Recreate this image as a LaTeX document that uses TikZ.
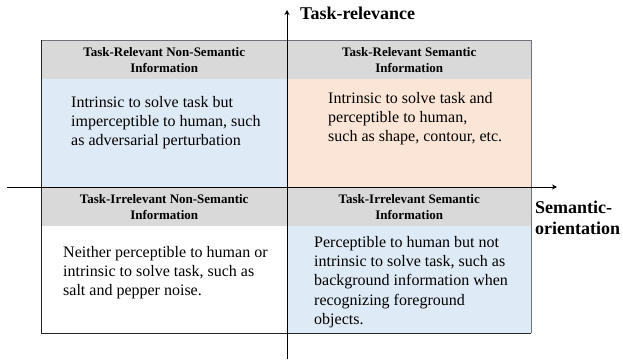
\documentclass[tikz,border=0pt]{standalone}
\usepackage{fontspec}
\setmainfont{Liberation Serif}
\usetikzlibrary{positioning, arrows.meta}

\definecolor{headgray}{HTML}{D9D9D9}
\definecolor{cellblue}{HTML}{DEEAF6}
\definecolor{cellpeach}{HTML}{FBE5D6}
\definecolor{edgegray}{HTML}{6E7479}

\tikzset{
  headbox/.style={rectangle, fill=headgray, inner sep=0pt, anchor=north west,
    minimum height=39pt, align=center,
    font=\fontsize{13}{16}\selectfont\bfseries},
  bodybox/.style={rectangle, inner sep=0pt, anchor=north west},
  bodytext/.style={inner sep=0pt, anchor=north west, align=left,
    font=\fontsize{16}{19.3}\selectfont},
  axislabel/.style={inner sep=0pt, align=left,
    font=\fontsize{18}{21}\selectfont\bfseries},
  axis/.style={line width=1pt, -{Stealth[length=5pt,width=5pt]}}
}

\begin{document}
\begin{tikzpicture}[x=1pt,y=-1pt]
\useasboundingbox (0,0) rectangle (623,360);

% quadrants
\node[bodybox, fill=cellblue, minimum width=246pt, minimum height=108pt] (b1) at (41,79) {};
\node[bodybox, fill=cellpeach, minimum width=244pt, minimum height=108pt] (b2) at (287,79) {};
\node[bodybox, fill=white, minimum width=246pt, minimum height=107pt] (b3) at (41,226) {};
\node[bodybox, fill=cellblue, minimum width=244pt, minimum height=107pt] (b4) at (287,226) {};

\node[headbox, minimum width=246pt] (h1) at (41,40) {Task-Relevant Non-Semantic\\Information};
\node[headbox, minimum width=244pt] (h2) at (287,40) {Task-Relevant Semantic\\Information};
\node[headbox, minimum width=246pt] (h3) at (41,187) {Task-Irrelevant Non-Semantic\\Information};
\node[headbox, minimum width=244pt] (h4) at (287,187) {Task-Irrelevant Semantic\\Information};

% outline
\draw[edgegray, line width=0.9pt] (h1.north west) -- (h2.north east) -- (b4.south east);
\draw[black!85, line width=0.9pt] (h1.north west) -- (b3.south west) -- (b4.south east);

\node[bodytext] (t1) at (71,96) {Intrinsic to solve task but\\imperceptible to human, such\\as adversarial perturbation};
\node[bodytext] (t2) at (328,92) {Intrinsic to solve task and\\perceptible to human,\\such as shape, contour, etc.};
\node[bodytext] (t3) at (63,246) {Neither perceptible to human or\\intrinsic to solve task, such as\\salt and pepper noise.};
\node[bodytext] (t4) at (314,236) {Perceptible to human but not\\intrinsic to solve task, such as\\background information when\\recognizing foreground\\objects.};

% axes
\coordinate (ybot) at (287,359);
\coordinate (ytop) at (287,10);
\coordinate (xleft) at (7,187);
\coordinate (xright) at (557,187);
\draw[axis] (ybot) -- (ytop);
\draw[axis] (xleft) -- (xright);

\node[axislabel, anchor=west] (ylab) at (300,13) {Task-relevance};
\node[axislabel, anchor=north west] (xlab) at (535,201) {Semantic-\\orientation};
\end{tikzpicture}
\end{document}
